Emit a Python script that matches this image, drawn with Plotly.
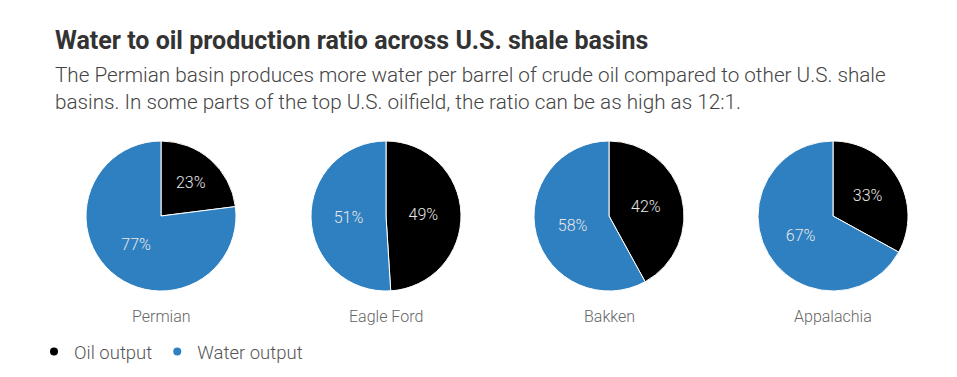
import plotly.graph_objects as go

basins = ["Permian", "Eagle Ford", "Bakken", "Appalachia"]
oil_pct = [23, 49, 42, 33]
water_pct = [77, 51, 58, 67]
series_names = ["Oil output", "Water output"]
colors = ["#000000", "#2f80c1"]

W, H = 957, 377
centers_px = [161, 386, 609, 833]
cy_px = 216
r_px = 75
FONT = "Roboto"

fig = go.Figure()
for i, b in enumerate(basins):
    cx = centers_px[i]
    fig.add_trace(go.Pie(
        labels=series_names,
        values=[oil_pct[i], water_pct[i]],
        sort=False, direction="clockwise", rotation=0,
        marker=dict(colors=colors, line=dict(color="white", width=1)),
        textinfo="percent", textposition="inside",
        insidetextfont=dict(color="#e8e8e8", size=16, family=FONT, weight=300),
        insidetextorientation="horizontal",
        domain=dict(x=[(cx - r_px) / W, (cx + r_px) / W],
                    y=[1 - (cy_px + r_px) / H, 1 - (cy_px - r_px) / H]),
        showlegend=False, hoverinfo="label+percent", name=b,
    ))
    fig.add_annotation(x=cx / W, y=1 - 316 / H, xref="paper", yref="paper",
                       text=b, showarrow=False, xanchor="center", yanchor="middle",
                       font=dict(size=16, color="#666666", family=FONT, weight=300))

for name, c in zip(series_names, colors):
    fig.add_trace(go.Scatter(x=[None], y=[None], mode="markers", name=name,
                             marker=dict(color=c, size=8, symbol="circle")))

fig.add_annotation(x=53 / W, y=1 - 40 / H, xref="paper", yref="paper",
                   text="<b>Water to oil production ratio across U.S. shale basins</b>",
                   showarrow=False, xanchor="left", yanchor="middle",
                   font=dict(size=25, color="#333333", family=FONT))
fig.add_annotation(x=53 / W, y=1 - 89 / H, xref="paper", yref="paper",
                   text=("The Permian basin produces more water per barrel of crude oil compared to other U.S. shale"
                         "<br>basins. In some parts of the top U.S. oilfield, the ratio can be as high as 12:1."),
                   showarrow=False, xanchor="left", yanchor="middle", align="left",
                   font=dict(size=20.7, color="#444444", family=FONT, weight=300))

fig.update_layout(
    width=W, height=H,
    margin=dict(l=0, r=0, t=0, b=0),
    paper_bgcolor="white", plot_bgcolor="white",
    xaxis=dict(visible=False), yaxis=dict(visible=False),
    legend=dict(orientation="h", x=34 / W, y=1 - 352 / H, xanchor="left", yanchor="middle",
                font=dict(size=18.5, color="#555555", family=FONT, weight=300),
                tracegroupgap=0),
    font=dict(family=FONT),
)
fig.write_html("out.html", config={"displayModeBar": False},
               post_script="document.body.style.margin='0';")
